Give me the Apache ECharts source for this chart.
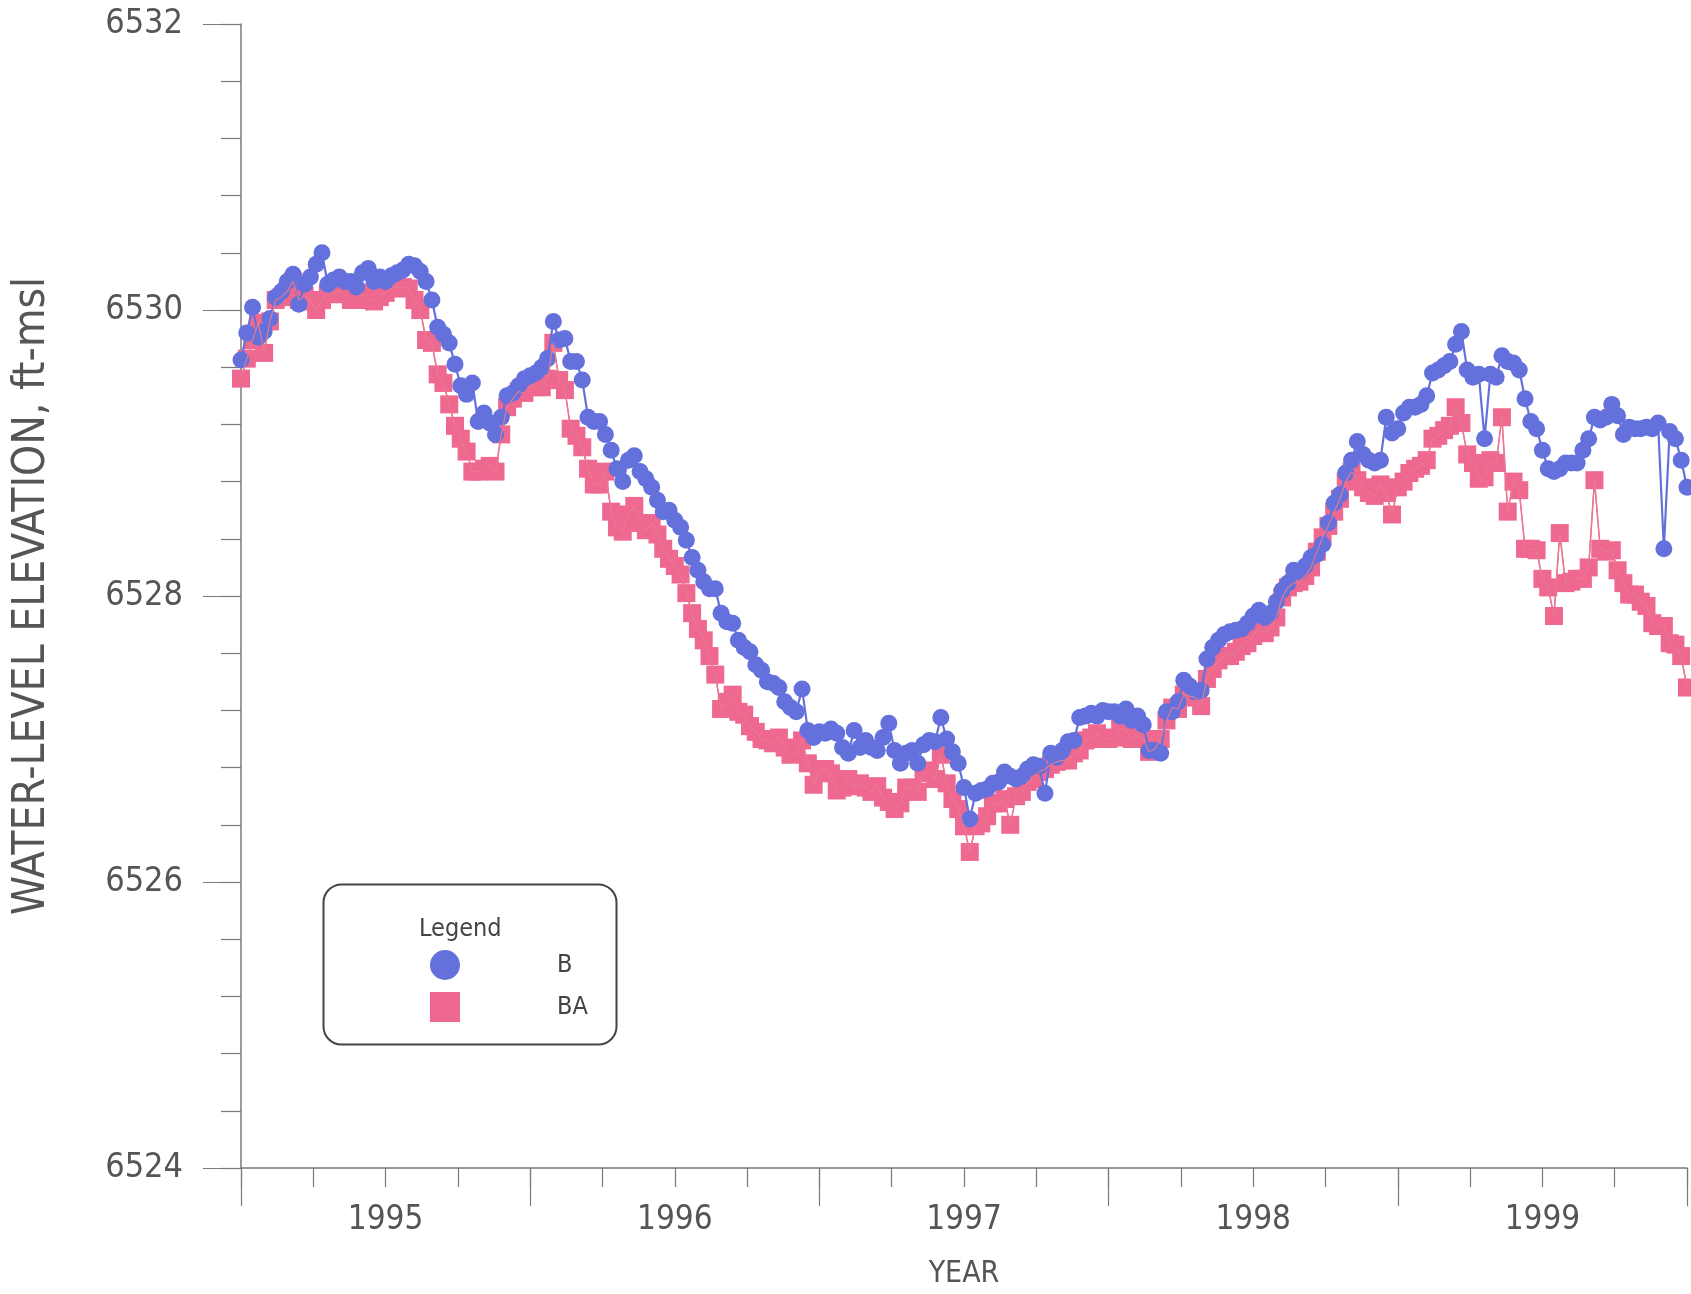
<!DOCTYPE html>
<html>
<head>
<meta charset="utf-8">
<script src="https://cdn.jsdelivr.net/npm/echarts@6/dist/echarts.min.js"></script>
<style>
html,body{margin:0;padding:0;background:#ffffff;}
#chart{width:1691px;height:1294px;}
</style>
</head>
<body>
<div id="chart"></div>
<script>
// Sample dates (decimal years)
const years = [
1995.00,1995.02,1995.04,1995.06,1995.08,1995.10,1995.12,1995.14,1995.16,1995.18,
1995.20,1995.22,1995.24,1995.26,1995.28,1995.30,1995.32,1995.34,1995.36,1995.38,
1995.40,1995.42,1995.44,1995.46,1995.48,1995.50,1995.52,1995.54,1995.56,1995.58,
1995.60,1995.62,1995.64,1995.66,1995.68,1995.70,1995.72,1995.74,1995.76,1995.78,
1995.80,1995.82,1995.84,1995.86,1995.88,1995.90,1995.92,1995.94,1995.96,1995.98,
1996.00,1996.02,1996.04,1996.06,1996.08,1996.10,1996.12,1996.14,1996.16,1996.18,
1996.20,1996.22,1996.24,1996.26,1996.28,1996.30,1996.32,1996.34,1996.36,1996.38,
1996.40,1996.42,1996.44,1996.46,1996.48,1996.50,1996.52,1996.54,1996.56,1996.58,
1996.60,1996.62,1996.64,1996.66,1996.68,1996.70,1996.72,1996.74,1996.76,1996.78,
1996.80,1996.82,1996.84,1996.86,1996.88,1996.90,1996.92,1996.94,1996.96,1996.98,
1997.00,1997.02,1997.04,1997.06,1997.08,1997.10,1997.12,1997.14,1997.16,1997.18,
1997.20,1997.22,1997.24,1997.26,1997.28,1997.30,1997.32,1997.34,1997.36,1997.38,
1997.40,1997.42,1997.44,1997.46,1997.48,1997.50,1997.52,1997.54,1997.56,1997.58,
1997.60,1997.62,1997.64,1997.66,1997.68,1997.70,1997.72,1997.74,1997.76,1997.78,
1997.80,1997.82,1997.84,1997.86,1997.88,1997.90,1997.92,1997.94,1997.96,1997.98,
1998.00,1998.02,1998.04,1998.06,1998.08,1998.10,1998.12,1998.14,1998.16,1998.18,
1998.20,1998.22,1998.24,1998.26,1998.28,1998.30,1998.32,1998.34,1998.36,1998.38,
1998.40,1998.42,1998.44,1998.46,1998.48,1998.50,1998.52,1998.54,1998.56,1998.58,
1998.60,1998.62,1998.64,1998.66,1998.68,1998.70,1998.72,1998.74,1998.76,1998.78,
1998.80,1998.82,1998.84,1998.86,1998.88,1998.90,1998.92,1998.94,1998.96,1998.98,
1999.00,1999.02,1999.04,1999.06,1999.08,1999.10,1999.12,1999.14,1999.16,1999.18,
1999.20,1999.22,1999.24,1999.26,1999.28,1999.30,1999.32,1999.34,1999.36,1999.38,
1999.40,1999.42,1999.44,1999.46,1999.48,1999.50,1999.52,1999.54,1999.56,1999.58,
1999.60,1999.62,1999.64,1999.66,1999.68,1999.70,1999.72,1999.74,1999.76,1999.78,
1999.80,1999.82,1999.84,1999.86,1999.88,1999.90,1999.92,1999.94,1999.96,1999.98,
2000.00
];

// Well B water-level elevation (ft-msl)
const valuesB = [
6529.65,6529.84,6530.02,6529.81,6529.85,6529.94,6530.09,6530.13,6530.20,6530.25,
6530.04,6530.18,6530.23,6530.32,6530.40,6530.18,6530.21,6530.23,6530.20,6530.20,
6530.16,6530.26,6530.29,6530.20,6530.23,6530.20,6530.24,6530.26,6530.28,6530.32,
6530.31,6530.27,6530.20,6530.07,6529.88,6529.83,6529.77,6529.62,6529.47,6529.41,
6529.49,6529.22,6529.28,6529.21,6529.13,6529.25,6529.40,6529.42,6529.47,6529.52,
6529.54,6529.56,6529.60,6529.66,6529.92,6529.79,6529.80,6529.64,6529.64,6529.51,
6529.25,6529.22,6529.22,6529.13,6529.02,6528.89,6528.80,6528.95,6528.98,6528.87,
6528.82,6528.76,6528.67,6528.59,6528.60,6528.53,6528.48,6528.39,6528.27,6528.18,
6528.10,6528.05,6528.05,6527.88,6527.82,6527.81,6527.69,6527.64,6527.61,6527.52,
6527.48,6527.40,6527.39,6527.36,6527.26,6527.22,6527.19,6527.35,6527.06,6527.01,
6527.05,6527.04,6527.07,6527.04,6526.94,6526.90,6527.06,6526.94,6526.99,6526.94,
6526.92,6527.01,6527.11,6526.92,6526.83,6526.90,6526.92,6526.83,6526.96,6526.99,
6526.98,6527.15,6527.00,6526.91,6526.83,6526.66,6526.44,6526.62,6526.64,6526.65,
6526.69,6526.70,6526.77,6526.74,6526.72,6526.74,6526.79,6526.82,6526.81,6526.62,
6526.90,6526.87,6526.92,6526.98,6526.99,6527.15,6527.16,6527.18,6527.16,6527.20,
6527.19,6527.19,6527.16,6527.21,6527.13,6527.16,6527.10,6526.92,6526.92,6526.90,
6527.19,6527.19,6527.26,6527.41,6527.37,6527.33,6527.34,6527.56,6527.64,6527.69,
6527.73,6527.75,6527.76,6527.77,6527.81,6527.86,6527.90,6527.85,6527.88,6527.96,
6528.04,6528.09,6528.18,6528.17,6528.21,6528.27,6528.29,6528.36,6528.51,6528.65,
6528.71,6528.86,6528.95,6529.08,6528.99,6528.95,6528.93,6528.95,6529.25,6529.14,
6529.17,6529.28,6529.32,6529.32,6529.34,6529.40,6529.56,6529.58,6529.61,6529.64,
6529.76,6529.85,6529.58,6529.53,6529.55,6529.10,6529.55,6529.53,6529.68,6529.64,
6529.63,6529.58,6529.38,6529.22,6529.17,6529.02,6528.89,6528.87,6528.89,6528.93,
6528.93,6528.93,6529.02,6529.10,6529.25,6529.23,6529.25,6529.34,6529.26,6529.13,
6529.18,6529.17,6529.17,6529.18,6529.17,6529.21,6528.33,6529.15,6529.10,6528.95,
6528.76
];

// Well BA water-level elevation (ft-msl)
const valuesBA = [
6529.52,6529.66,6529.79,6529.91,6529.70,6529.92,6530.07,6530.09,6530.13,6530.20,
6530.07,6530.10,6530.06,6530.00,6530.07,6530.11,6530.12,6530.13,6530.11,6530.07,
6530.09,6530.12,6530.07,6530.06,6530.09,6530.12,6530.15,6530.16,6530.16,6530.15,
6530.07,6530.00,6529.79,6529.77,6529.55,6529.49,6529.34,6529.19,6529.10,6529.01,
6528.87,6528.87,6528.89,6528.91,6528.87,6529.13,6529.32,6529.38,6529.43,6529.42,
6529.47,6529.46,6529.46,6529.52,6529.77,6529.51,6529.44,6529.17,6529.12,6529.04,
6528.89,6528.78,6528.78,6528.87,6528.59,6528.48,6528.45,6528.57,6528.63,6528.51,
6528.46,6528.51,6528.43,6528.33,6528.26,6528.21,6528.15,6528.02,6527.88,6527.77,
6527.69,6527.58,6527.45,6527.21,6527.26,6527.31,6527.19,6527.17,6527.09,6527.05,
6527.00,6526.99,6526.97,6527.01,6526.94,6526.89,6526.90,6526.99,6526.83,6526.68,
6526.79,6526.79,6526.76,6526.64,6526.66,6526.72,6526.67,6526.69,6526.66,6526.63,
6526.67,6526.59,6526.56,6526.51,6526.55,6526.66,6526.66,6526.63,6526.76,6526.78,
6526.72,6526.89,6526.69,6526.58,6526.51,6526.39,6526.21,6526.39,6526.41,6526.46,
6526.55,6526.55,6526.58,6526.40,6526.60,6526.63,6526.70,6526.72,6526.77,6526.79,
6526.82,6526.84,6526.85,6526.85,6526.90,6526.92,6526.99,6527.01,6527.04,6527.00,
6527.00,6527.01,6527.07,6527.06,6527.00,6527.02,6527.00,6526.91,6526.93,6527.00,
6527.13,6527.22,6527.21,6527.31,6527.30,6527.29,6527.23,6527.42,6527.49,6527.55,
6527.58,6527.58,6527.61,6527.65,6527.67,6527.72,6527.78,6527.74,6527.78,6527.85,
6527.99,6528.06,6528.09,6528.10,6528.14,6528.20,6528.31,6528.41,6528.49,6528.59,
6528.68,6528.80,6528.87,6528.81,6528.76,6528.72,6528.70,6528.78,6528.72,6528.57,
6528.76,6528.80,6528.86,6528.89,6528.91,6528.95,6529.10,6529.12,6529.16,6529.19,
6529.32,6529.21,6528.99,6528.93,6528.82,6528.83,6528.95,6528.93,6529.25,6528.59,
6528.80,6528.74,6528.33,6528.33,6528.32,6528.12,6528.06,6527.86,6528.44,6528.09,
6528.10,6528.12,6528.12,6528.20,6528.81,6528.33,6528.31,6528.32,6528.18,6528.09,
6528.01,6528.01,6527.96,6527.93,6527.81,6527.79,6527.79,6527.67,6527.66,6527.58,
6527.36
];

const seriesNames = ['B', 'BA'];
const yearLabels = ['1995', '1996', '1997', '1998', '1999'];

const FONT = "'DejaVu Sans Condensed', 'DejaVu Sans', sans-serif";
const BLUE = '#6471dc';
const PINK = '#ef6890';
const AXIS = '#7a7a7a';
const TEXT = '#555555';

const pairsB = years.map((y, i) => [y, valuesB[i]]);
const pairsBA = years.map((y, i) => [y, valuesBA[i]]);

const chart = echarts.init(document.getElementById('chart'), null, {renderer: 'canvas'});

const option = {
  backgroundColor: '#ffffff',
  animation: false,
  grid: {left: 241, right: 4, top: 24, bottom: 118, containLabel: false},
  xAxis: [
    {
      type: 'value', min: 1995, max: 2000, interval: 0.25,
      position: 'bottom',
      axisLine: {show: true, lineStyle: {color: AXIS, width: 1.5}},
      axisTick: {show: true, length: 19, lineStyle: {color: AXIS, width: 1.2}},
      splitLine: {show: false},
      axisLabel: {
        margin: 36, fontSize: 33, color: TEXT, fontFamily: FONT,
        formatter: function (v) {
          const f = v - Math.floor(v);
          if (Math.abs(f - 0.5) < 1e-6) {
            const idx = Math.floor(v) - 1995;
            return yearLabels[idx] || '';
          }
          return '';
        }
      },
      name: 'YEAR', nameLocation: 'middle', nameGap: 91,
      nameTextStyle: {fontSize: 30, color: TEXT, fontFamily: FONT}
    },
    {
      type: 'value', min: 1995, max: 2000, interval: 1,
      position: 'bottom', offset: 0,
      axisLine: {show: false},
      axisTick: {show: true, length: 38, lineStyle: {color: AXIS, width: 1.2}},
      axisLabel: {show: false},
      splitLine: {show: false}
    }
  ],
  yAxis: [
    {
      type: 'value', min: 6524, max: 6532, interval: 0.4,
      position: 'left',
      axisLine: {show: true, lineStyle: {color: AXIS, width: 1.5}},
      axisTick: {show: true, length: 20, lineStyle: {color: AXIS, width: 1.2}},
      splitLine: {show: false},
      axisLabel: {
        margin: 58, fontSize: 34, color: TEXT, fontFamily: FONT,
        formatter: function (v) {
          const r = Math.round(v / 2) * 2;
          return Math.abs(v - r) < 1e-6 ? String(r) : '';
        }
      },
      name: 'WATER-LEVEL ELEVATION, ft-msl', nameLocation: 'middle', nameGap: 186,
      nameRotate: 90,
      nameTextStyle: {fontSize: 44, color: TEXT, fontFamily: FONT}
    },
    {
      type: 'value', min: 6524, max: 6532, interval: 2,
      position: 'left', offset: 0,
      axisLine: {show: false},
      axisTick: {show: true, length: 38, lineStyle: {color: AXIS, width: 1.2}},
      axisLabel: {show: false},
      splitLine: {show: false}
    }
  ],
  legend: {
    show: true, orient: 'vertical', left: 430, top: 950, padding: 0,
    itemWidth: 30, itemHeight: 30, itemGap: 12,
    selectedMode: false,
    data: [{name: seriesNames[0], icon: 'circle'}, {name: seriesNames[1], icon: 'rect'}],
    textStyle: {fontSize: 25, color: '#444', fontFamily: FONT, padding: [9, 0, 0, 92]}
  },
  graphic: [
    {
      type: 'rect', left: 321, top: 882, z: 100,
      shape: {width: 293, height: 160, r: 18},
      style: {fill: 'none', stroke: '#444', lineWidth: 2}
    },
    {
      type: 'text', left: 419, top: 917, z: 100,
      style: {text: 'Legend', fontSize: 25, fill: '#444', fontFamily: FONT}
    }
  ],
  series: [
    {
      name: seriesNames[1], type: 'line', data: pairsBA, z: 2,
      symbol: 'rect', symbolSize: 18, showAllSymbol: true, clip: false,
      itemStyle: {color: PINK},
      lineStyle: {color: PINK, width: 1.5}
    },
    {
      name: seriesNames[0], type: 'line', data: pairsB, z: 3,
      symbol: 'circle', symbolSize: 17, showAllSymbol: true, clip: false,
      itemStyle: {color: BLUE},
      lineStyle: {color: BLUE, width: 2.2}
    },
    {
      name: 'BA line', type: 'line', data: pairsBA, z: 4,
      showSymbol: false, symbol: 'none', clip: false,
      lineStyle: {color: '#e87a8e', width: 1.1},
      tooltip: {show: false}
    }
  ]
};

chart.setOption(option);
</script>
</body>
</html>
